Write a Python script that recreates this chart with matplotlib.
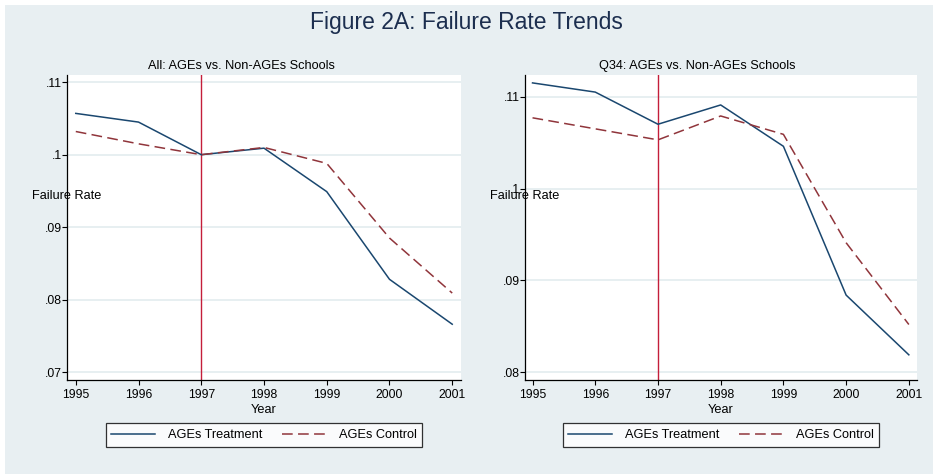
import matplotlib
matplotlib.use("Agg")
import matplotlib.pyplot as plt
from matplotlib.patches import Rectangle
from matplotlib.transforms import ScaledTranslation

plt.rcParams['font.family'] = ['Liberation Sans', 'DejaVu Sans']

# data
years = [1995, 1996, 1997, 1998, 1999, 2000, 2001]
all_treatment = [0.1057, 0.1045, 0.1000, 0.1009, 0.0949, 0.0828, 0.0766]
all_control = [0.1032, 0.1015, 0.1000, 0.1010, 0.0988, 0.0885, 0.0809]
q34_treatment = [0.1115, 0.1105, 0.1070, 0.1091, 0.1046, 0.0884, 0.0819]
q34_control = [0.1077, 0.1065, 0.1053, 0.1079, 0.1059, 0.0941, 0.0852]
all_yticks = [0.07, 0.08, 0.09, 0.10, 0.11]
all_ylabels = ['.07', '.08', '.09', '.1', '.11']
q34_yticks = [0.08, 0.09, 0.10, 0.11]
q34_ylabels = ['.08', '.09', '.1', '.11']
policy_year = 1997

W, H = 933, 476
BG = '#e8eff2'
NAVY = '#1a476f'
MAROON = '#90353b'
VLINE = '#c41e3a'

fig = plt.figure(figsize=(W / 100, H / 100), dpi=100)
fig.patch.set_facecolor('white')
fig.patches.append(Rectangle((5 / W, 2 / H), 1 - 5 / W, 1 - 7 / H, transform=fig.transFigure,
                             facecolor=BG, edgecolor='none', zorder=-10))

fig.text(466 / W, 1 - 22 / H, 'Figure 2A: Failure Rate Trends', ha='center', va='center',
         fontsize=16.5, color='#1c2e4f')


def draw_panel(rect, treat, ctrl, yticks, ylabels, ylim, xlim, title, title_x):
    ax = fig.add_axes(rect)
    ax.set_facecolor('white')
    ax.axvline(policy_year, color=VLINE, lw=1.0, zorder=2)
    ax.plot(years, treat, color=NAVY, lw=1.1, zorder=3, label='AGEs Treatment')
    ax.plot(years, ctrl, color=MAROON, lw=1.1, dashes=(7, 3.5), zorder=3, label='AGEs Control')
    ax.set_xlim(*xlim)
    ax.set_ylim(*ylim)
    ax.set_xticks(years)
    ax.set_xticklabels([str(y) for y in years], fontsize=8.7)
    ax.set_yticks(yticks)
    ax.set_yticklabels(ylabels, fontsize=8.7)
    # stata puts the y labels just above their tick
    for lab in ax.get_yticklabels():
        lab.set_transform(lab.get_transform() + ScaledTranslation(0, 3 / 72, fig.dpi_scale_trans))
    ax.tick_params(axis='both', direction='out', length=3.5, width=0.8, color='black')
    ax.tick_params(axis='y', pad=0)
    ax.tick_params(axis='x', pad=3)
    ax.grid(axis='y', color='#e3ecef', lw=1.2, zorder=0)
    ax.set_axisbelow(True)
    for side in ['top', 'right']:
        ax.spines[side].set_visible(False)
    for side in ['left', 'bottom']:
        ax.spines[side].set_color('black')
        ax.spines[side].set_linewidth(0.9)
    ax.set_xlabel('Year', fontsize=9.2, labelpad=2)
    x_mid = rect[0] + rect[2] / 2
    fig.text(title_x / W, 1 - 66 / H, title, ha='center', va='center', fontsize=9.2)
    fig.text(rect[0], 1 - 196 / H, 'Failure Rate', ha='center', va='center', fontsize=9.2)
    leg = ax.legend(loc='center', bbox_to_anchor=(x_mid, 1 - 435 / H), bbox_transform=fig.transFigure,
                    ncol=2, fontsize=9.2, frameon=True, fancybox=False, handlelength=3.4,
                    handletextpad=1.0, columnspacing=1.6, borderpad=0.45)
    leg.get_frame().set_edgecolor('black')
    leg.get_frame().set_linewidth(0.9)
    leg.get_frame().set_facecolor('white')
    return ax


draw_panel([67 / W, 1 - 380 / H, 394 / W, 305 / H], all_treatment, all_control,
           all_yticks, all_ylabels, (0.0689, 0.1110), (1994.86, 2001.14),
           'All: AGEs vs. Non-AGEs Schools', 241)
draw_panel([525 / W, 1 - 380 / H, 392 / W, 305 / H], q34_treatment, q34_control,
           q34_yticks, q34_ylabels, (0.07916, 0.11236), (1994.88, 2001.13),
           'Q34: AGEs vs. Non-AGEs Schools', 697)

fig.savefig('out.png', dpi=100, facecolor=fig.get_facecolor())
